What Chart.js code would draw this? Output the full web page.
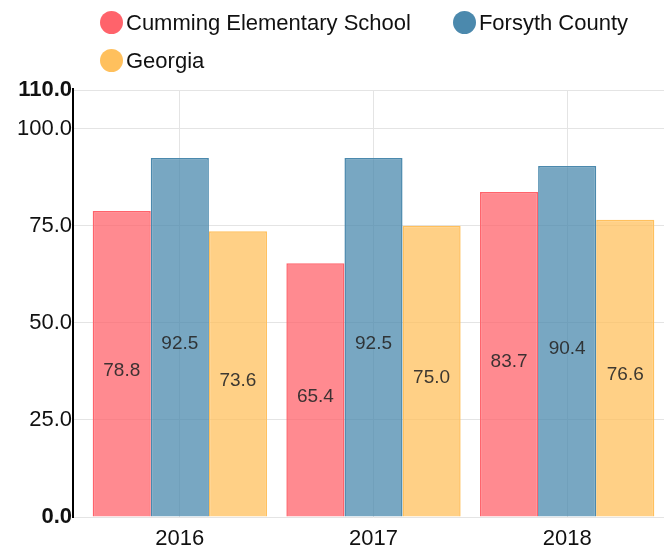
<!DOCTYPE html>
<html>
<head>
<meta charset="utf-8">
<script src="https://cdn.jsdelivr.net/npm/chart.js@4/dist/chart.umd.min.js"></script>
<style>
  body { margin: 0; background: #fff; font-family: 'Liberation Sans', Arial, sans-serif; }
  #wrap { position: relative; width: 664px; height: 550px; }
  #legend {
    position: absolute; left: 100px; top: 11px; width: 550px;
    display: flex; flex-wrap: wrap; column-gap: 42px; row-gap: 15px;
  }
  .item { display: flex; align-items: center; height: 23px; font-size: 22px; color: #111; white-space: nowrap; }
  .dot { width: 23px; height: 23px; border-radius: 50%; margin-right: 3px; }
</style>
</head>
<body>
<div id="wrap">
  <canvas id="myChart" width="664" height="550"></canvas>
  <div id="legend"></div>
</div>
<script>
const years = ["2016", "2017", "2018"];
const school = [78.8, 65.4, 83.7];
const county = [92.5, 92.5, 90.4];
const georgia = [73.6, 75.0, 76.6];
const yTicks = [0, 25, 50, 75, 100, 110];

const FONT = "'Liberation Sans', Arial, sans-serif";

// values written in the middle of each bar
const barLabels = {
    id: "barLabels",
    afterDatasetsDraw(chart) {
        const ctx = chart.ctx;
        ctx.save();
        ctx.font = "19px " + FONT;
        ctx.fillStyle = "rgba(40,40,40,0.9)";
        ctx.textAlign = "center";
        ctx.textBaseline = "middle";
        chart.data.datasets.forEach((ds, i) => {
            chart.getDatasetMeta(i).data.forEach((bar, j) => {
                const mid = (bar.y + bar.base) / 2 + 7;
                ctx.fillText(ds.data[j].toFixed(1), bar.x, mid);
            });
        });
        ctx.restore();
    }
};

// black axis line sits at the outer end of the y tick marks
const axisLine = {
    id: "axisLine",
    afterDraw(chart) {
        const { ctx, chartArea } = chart;
        ctx.save();
        ctx.strokeStyle = "#000";
        ctx.lineWidth = 2;
        ctx.beginPath();
        ctx.moveTo(chartArea.left - 10, chartArea.top - 2);
        ctx.lineTo(chartArea.left - 10, chartArea.bottom + 1);
        ctx.stroke();
        ctx.restore();
    }
};

const chart = new Chart(document.getElementById("myChart"), {
    type: "bar",
    data: {
        labels: years,
        datasets: [
            {
                label: "Cumming Elementary School",
                data: school,
                backgroundColor: "rgba(255,99,107,0.75)",
                borderColor: "rgb(255,99,107)",
                borderWidth: 1.5
            },
            {
                label: "Forsyth County",
                data: county,
                backgroundColor: "rgba(75,137,173,0.75)",
                borderColor: "rgb(75,137,173)",
                borderWidth: 1.5
            },
            {
                label: "Georgia",
                data: georgia,
                backgroundColor: "rgba(255,192,93,0.75)",
                borderColor: "rgb(255,192,93)",
                borderWidth: 1.5
            }
        ]
    },
    options: {
        responsive: false,
        animation: false,
        barPercentage: 1.0,
        categoryPercentage: 0.9,
        layout: { padding: { top: 90, right: 0, left: 0, bottom: 0 } },
        plugins: {
            tooltip: { enabled: false },
            legend: { display: false }
        },
        scales: {
            x: {
                afterFit(scale) { scale.height = 33; },
                grid: { color: "#e4e4e4", drawTicks: false, offset: false },
                border: { display: false },
                ticks: { color: "#111", padding: 9, font: { family: FONT, size: 22 } }
            },
            y: {
                min: 0,
                max: 110,
                afterBuildTicks(scale) {
                    scale.ticks = yTicks.map(v => ({ value: v }));
                },
                afterFit(scale) { scale.width = 83; },
                grid: { color: "#e4e4e4", tickLength: 10 },
                border: { display: false },
                ticks: {
                    color: "#111",
                    padding: 1,
                    font: ctx => ({
                        family: FONT,
                        size: 22,
                        weight: (ctx.tick && (ctx.tick.value === 0 || ctx.tick.value === 110)) ? "bold" : "normal"
                    }),
                    callback: v => Number(v).toFixed(1)
                }
            }
        }
    },
    plugins: [barLabels, axisLine]
});

// legend built from the datasets
const legend = document.getElementById("legend");
chart.data.datasets.forEach(ds => {
    const item = document.createElement("div");
    item.className = "item";
    const dot = document.createElement("span");
    dot.className = "dot";
    dot.style.background = ds.borderColor;
    item.appendChild(dot);
    item.appendChild(document.createTextNode(ds.label));
    legend.appendChild(item);
});
</script>
</body>
</html>
